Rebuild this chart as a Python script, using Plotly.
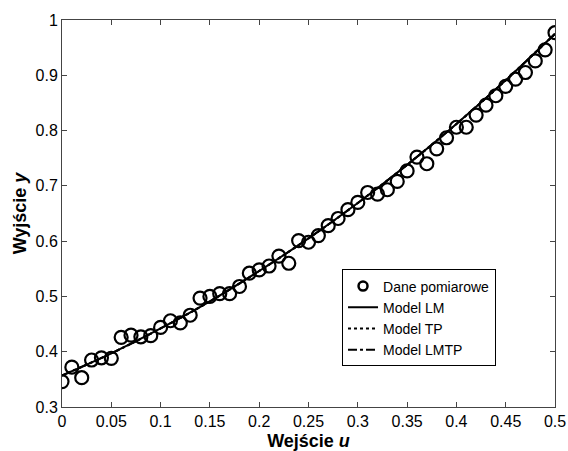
import plotly.graph_objects as go

u_data = [0.00, 0.01, 0.02, 0.03, 0.04, 0.05, 0.06, 0.07, 0.08, 0.09,
          0.10, 0.11, 0.12, 0.13, 0.14, 0.15, 0.16, 0.17, 0.18, 0.19,
          0.20, 0.21, 0.22, 0.23, 0.24, 0.25, 0.26, 0.27, 0.28, 0.29,
          0.30, 0.31, 0.32, 0.33, 0.34, 0.35, 0.36, 0.37, 0.38, 0.39,
          0.40, 0.41, 0.42, 0.43, 0.44, 0.45, 0.46, 0.47, 0.48, 0.49, 0.50]
y_data = [0.346, 0.372, 0.353, 0.385, 0.389, 0.388, 0.426, 0.430, 0.427, 0.429,
          0.444, 0.456, 0.452, 0.466, 0.497, 0.500, 0.505, 0.505, 0.518, 0.542,
          0.548, 0.555, 0.573, 0.560, 0.601, 0.598, 0.610, 0.628, 0.641, 0.657,
          0.670, 0.688, 0.685, 0.693, 0.708, 0.727, 0.752, 0.740, 0.767, 0.787,
          0.806, 0.806, 0.828, 0.846, 0.863, 0.880, 0.893, 0.905, 0.926, 0.946, 0.977]

u_model = [0.00, 0.05, 0.10, 0.15, 0.20, 0.25, 0.30, 0.35, 0.40, 0.45, 0.50]
y_lm = [0.357, 0.397, 0.442, 0.491, 0.546, 0.605, 0.669, 0.738, 0.812, 0.891, 0.975]
y_tp = [0.357, 0.397, 0.442, 0.491, 0.546, 0.605, 0.669, 0.738, 0.812, 0.891, 0.975]
y_lmtp = [0.357, 0.397, 0.442, 0.491, 0.546, 0.605, 0.669, 0.738, 0.812, 0.891, 0.975]

x_ticks = [0, 0.05, 0.1, 0.15, 0.2, 0.25, 0.3, 0.35, 0.4, 0.45, 0.5]
x_ticklabels = ["0", "0.05", "0.1", "0.15", "0.2", "0.25", "0.3", "0.35", "0.4", "0.45", "0.5"]
y_ticks = [0.3, 0.4, 0.5, 0.6, 0.7, 0.8, 0.9, 1.0]
y_ticklabels = ["0.3", "0.4", "0.5", "0.6", "0.7", "0.8", "0.9", "1"]

FONT = "Arial, Liberation Sans, sans-serif"

fig = go.Figure()
fig.add_trace(go.Scatter(x=u_data, y=y_data, mode="markers", name="Dane pomiarowe",
                         showlegend=False,
                         marker=dict(symbol="circle-open", size=13, color="black",
                                     line=dict(width=2.2, color="black"))))
# legend entry with a smaller symbol (no plotted points)
fig.add_trace(go.Scatter(x=[None], y=[None], mode="markers", name="Dane pomiarowe",
                         marker=dict(symbol="circle-open", size=9, color="black",
                                     line=dict(width=2.5, color="black"))))
fig.add_trace(go.Scatter(x=u_model, y=y_lm, mode="lines", name="Model LM", line_shape="spline",
                         line=dict(color="black", width=2)))
fig.add_trace(go.Scatter(x=u_model, y=y_tp, mode="lines", name="Model TP", line_shape="spline",
                         line=dict(color="black", width=2, dash="dot")))
fig.add_trace(go.Scatter(x=u_model, y=y_lmtp, mode="lines", name="Model LMTP", line_shape="spline",
                         line=dict(color="black", width=2, dash="dashdot")))

axis_common = dict(showgrid=False, zeroline=False, showline=True, linecolor="#444444",
                   linewidth=1, mirror="ticks", ticks="inside", ticklen=5, automargin=False,
                   tickcolor="#444444", tickfont=dict(family=FONT, size=16, color="black"))

fig.update_xaxes(range=[0, 0.5], tickvals=x_ticks, ticktext=x_ticklabels,
                 title=dict(text="<b>Wejście <i>u</i></b>", standoff=5,
                            font=dict(family=FONT, size=18, color="black")),
                 **axis_common)
fig.update_yaxes(range=[0.3, 1.0], tickvals=y_ticks, ticktext=y_ticklabels,
                 title=dict(text="<b>Wyjście <i>y</i></b>", standoff=4,
                            font=dict(family=FONT, size=18, color="black")),
                 **axis_common)

fig.update_layout(
    width=568, height=451,
    margin=dict(l=62, r=13, t=20, b=44, autoexpand=False),
    paper_bgcolor="white", plot_bgcolor="white",
    font=dict(family=FONT, color="black"),
    legend=dict(x=0.568, y=0.23, xanchor="left", yanchor="middle",
                bgcolor="white", bordercolor="black", borderwidth=1,
                font=dict(family=FONT, size=14, color="black"),
                tracegroupgap=0, itemwidth=30),
)

fig.write_html(
    "out.html",
    config={"displayModeBar": False},
    post_script=("document.documentElement.style.overflow='hidden';"
                 "document.body.style.margin='0';"
                 "document.body.style.overflow='hidden';"),
)
